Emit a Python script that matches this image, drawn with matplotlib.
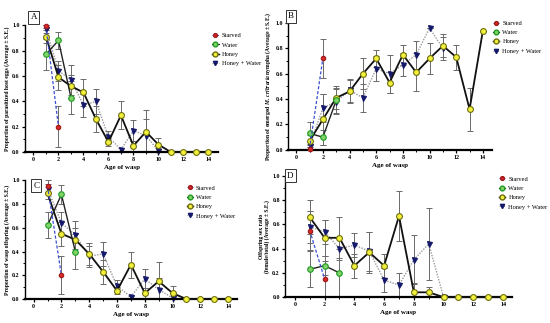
import matplotlib
matplotlib.use("Agg")
import matplotlib.pyplot as plt
from matplotlib.lines import Line2D
import numpy as np

plt.rcParams['font.family'] = ['Liberation Serif', 'DejaVu Serif']
plt.rcParams['mathtext.fontset'] = 'custom'
plt.rcParams['mathtext.it'] = 'Liberation Serif:italic:bold'
plt.rcParams['mathtext.rm'] = 'Liberation Serif:bold'

ages = np.arange(1, 15)

# ---- panel A: parasitized host eggs
a_starved = [0.99, 0.20]
a_starved_se = [0.01, 0.16]
a_water = [0.77, 0.88, 0.43]
a_water_se = [0.12, 0.07, 0.13]
a_honey = [0.91, 0.59, 0.52, 0.47, 0.26, 0.08, 0.29, 0.05, 0.16, 0.06, 0.0, 0.0, 0.0, 0.0]
a_honey_se = [0.05, 0.10, 0.09, 0.11, 0.10, 0.03, 0.11, 0.04, 0.17, 0.05, 0, 0, 0, 0]
a_hw = [0.97, 0.64, 0.57, 0.37, 0.40, 0.12, 0.02, 0.17, 0.13, 0.01]
a_hw_se = [0.03, 0.08, 0.12, 0.09, 0.10, 0.05, 0.01, 0.08, 0.13, 0.02]

# ---- panel B: emerged nymphs
b_starved = [0.01, 0.72]
b_starved_se = [0.01, 0.15]
b_water = [0.13, 0.10, 0.39]
b_water_se = [0.09, 0.06, 0.10]
b_honey = [0.07, 0.24, 0.41, 0.46, 0.60, 0.72, 0.53, 0.75, 0.61, 0.72, 0.82, 0.73, 0.32, 0.94]
b_honey_se = [0.05, 0.20, 0.09, 0.09, 0.12, 0.07, 0.08, 0.08, 0.15, 0.12, 0.09, 0.10, 0.17, 0]
b_hw = [0.03, 0.33, 0.38, 0.47, 0.41, 0.64, 0.60, 0.67, 0.75, 0.96, 0.80]
b_hw_se = [0.02, 0.11, 0.10, 0.09, 0.11, 0.10, 0.15, 0.09, 0.11, 0.0, 0.09]

# ---- panel C: wasp offspring
c_starved = [0.95, 0.20]
c_starved_se = [0.05, 0.16]
c_water = [0.62, 0.88, 0.40]
c_water_se = [0.11, 0.08, 0.15]
c_honey = [0.89, 0.55, 0.50, 0.38, 0.23, 0.07, 0.29, 0.05, 0.15, 0.05, 0.0, 0.0, 0.0, 0.0]
c_honey_se = [0.05, 0.10, 0.10, 0.09, 0.10, 0.03, 0.11, 0.04, 0.16, 0.06, 0, 0, 0, 0]
c_hw = [0.93, 0.64, 0.54, 0.36, 0.38, 0.11, 0.02, 0.17, 0.08, 0.01]
c_hw_se = [0.04, 0.09, 0.12, 0.09, 0.10, 0.05, 0.01, 0.08, 0.10, 0.02]

# ---- panel D: sex ratio
d_starved = [0.55, 0.15]
d_starved_se = [0.16, 0.15]
d_water = [0.23, 0.26, 0.20]
d_water_se = [0.15, 0.08, 0.20]
d_honey = [0.66, 0.49, 0.49, 0.26, 0.37, 0.26, 0.67, 0.04, 0.04, 0.0, 0.0, 0.0, 0.0, 0.0]
d_honey_se = [0.14, 0.15, 0.17, 0.10, 0.17, 0.10, 0.21, 0.08, 0.04, 0, 0, 0, 0, 0]
d_hw = [0.58, 0.54, 0.40, 0.43, 0.38, 0.14, 0.10, 0.31, 0.44, 0.0]
d_hw_se = [0.13, 0.10, 0.09, 0.10, 0.16, 0.10, 0.10, 0.20, 0.30, 0.0]

legend_names = ["Starved", "Water", "Honey", "Honey + Water"]

styles = {
    "Starved": dict(color="#3a4fd0", ls=(0, (2.5, 1.5)), lw=0.9, marker="o", mfc="#d62a2a", mec="#a01818", ms=3.2, z=5),
    "Water": dict(color="#222222", ls="-", lw=1.0, marker="o", mfc="#7fd36a", mec="#1f9a1f", ms=4.0, z=4),
    "Honey": dict(color="#111111", ls="-", lw=1.3, marker="o", mfc="#f2f03a", mec="#6e6e10", ms=4.2, z=3),
    "Honey + Water": dict(color="#9a9a9a", ls=(0, (1, 1)), lw=1.0, marker="v", mfc="#14186a", mec="#14186a", ms=3.6, z=2),
}


def draw_series(ax, name, y, se):
    s = styles[name]
    x = ages[:len(y)]
    ax.errorbar(x, y, yerr=se, fmt="none", ecolor="#6a6a6a", elinewidth=0.7,
                capsize=2, capthick=0.7, zorder=1)
    ax.plot(x, y, color=s["color"], ls=s["ls"], lw=s["lw"], marker=s["marker"],
            mfc=s["mfc"], mec=s["mec"], ms=s["ms"], mew=0.8, zorder=s["z"], clip_on=False)


def panel(rect, letter, data, ylabel, xlim, legend_pos, letter_pos):
    ax = fig.add_axes(rect)
    order = ["Honey + Water", "Honey", "Water", "Starved"]
    for name in order:
        y, se = data[name]
        draw_series(ax, name, y, se)
    ax.set_xlim(*xlim)
    ax.set_ylim(0, 1.0)
    ax.set_xticks(np.arange(0, 15, 2))
    ax.set_xticks(np.arange(1, 15, 2), minor=True)
    ax.set_yticks(np.arange(0, 1.01, 0.2))
    ax.set_yticks(np.arange(0.1, 1.0, 0.2), minor=True)
    ax.set_yticklabels(["0.0", "0.2", "0.4", "0.6", "0.8", "1.0"])
    for sp in ["top", "right"]:
        ax.spines[sp].set_visible(False)
    ax.spines["left"].set_linewidth(1.0)
    ax.spines["bottom"].set_linewidth(1.6)
    ax.tick_params(axis="both", which="major", labelsize=4.3, length=2.5, width=0.9, pad=1.2)
    ax.tick_params(axis="both", which="minor", length=1.6, width=0.7)
    for lab in ax.get_xticklabels() + ax.get_yticklabels():
        lab.set_fontweight("bold")
    ax.set_xlabel("Age of wasp", fontsize=5, fontweight="bold", labelpad=2)
    ax.set_ylabel(ylabel, fontsize=4.1, fontweight="bold", labelpad=1.5, linespacing=1.1)
    ax.text(letter_pos[0], letter_pos[1], letter, transform=ax.transAxes, fontsize=6.5,
            ha="left", va="bottom",
            bbox=dict(boxstyle="square,pad=0.25", fc="white", ec="#333333", lw=0.7))

    handles = []
    for name in legend_names:
        s = styles[name]
        handles.append(Line2D([0], [0], color=s["color"], ls=s["ls"], lw=s["lw"] * 0.8,
                              marker=s["marker"], mfc=s["mfc"], mec=s["mec"], ms=s["ms"] * 0.85))
    ax.legend(handles, legend_names, loc="upper left", bbox_to_anchor=legend_pos,
              frameon=False, fontsize=4.6, handlelength=1.0, handletextpad=0.5,
              labelspacing=0.6, borderaxespad=0)
    return ax


fig = plt.figure(figsize=(5.5, 3.23), dpi=100)

panel([0.045, 0.529, 0.352, 0.393], "A",
      {"Starved": (a_starved, a_starved_se), "Water": (a_water, a_water_se),
       "Honey": (a_honey, a_honey_se), "Honey + Water": (a_hw, a_hw_se)},
      "Proportion of parasitized host eggs (Average \u00b1 S.E.)",
      (-0.7, 14.8), (0.955, 0.96), (0.03, 1.03))

panel([0.524, 0.536, 0.371, 0.393], "B",
      {"Starved": (b_starved, b_starved_se), "Water": (b_water, b_water_se),
       "Honey": (b_honey, b_honey_se), "Honey + Water": (b_hw, b_hw_se)},
      "Proportion of emerged $\\mathit{M.\\ cribraria}$ nympha (Average \u00b1 S.E.)",
      (-0.6, 14.7), (0.99, 1.04), (0.0, 1.02))

panel([0.045, 0.074, 0.386, 0.368], "C",
      {"Starved": (c_starved, c_starved_se), "Water": (c_water, c_water_se),
       "Honey": (c_honey, c_honey_se), "Honey + Water": (c_hw, c_hw_se)},
      "Proportion of wasp offspring (Average \u00b1 S.E.)",
      (-0.64, 14.64), (0.75, 0.98), (0.04, 0.92))

panel([0.518, 0.080, 0.413, 0.375], "D",
      {"Starved": (d_starved, d_starved_se), "Water": (d_water, d_water_se),
       "Honey": (d_honey, d_honey_se), "Honey + Water": (d_hw, d_hw_se)},
      "Offspring sex ratio\n(female/total) (Average \u00b1 S.E.)",
      (-0.67, 14.6), (0.93, 1.02), (0.01, 0.97))

fig.savefig("out.png", dpi=100)
